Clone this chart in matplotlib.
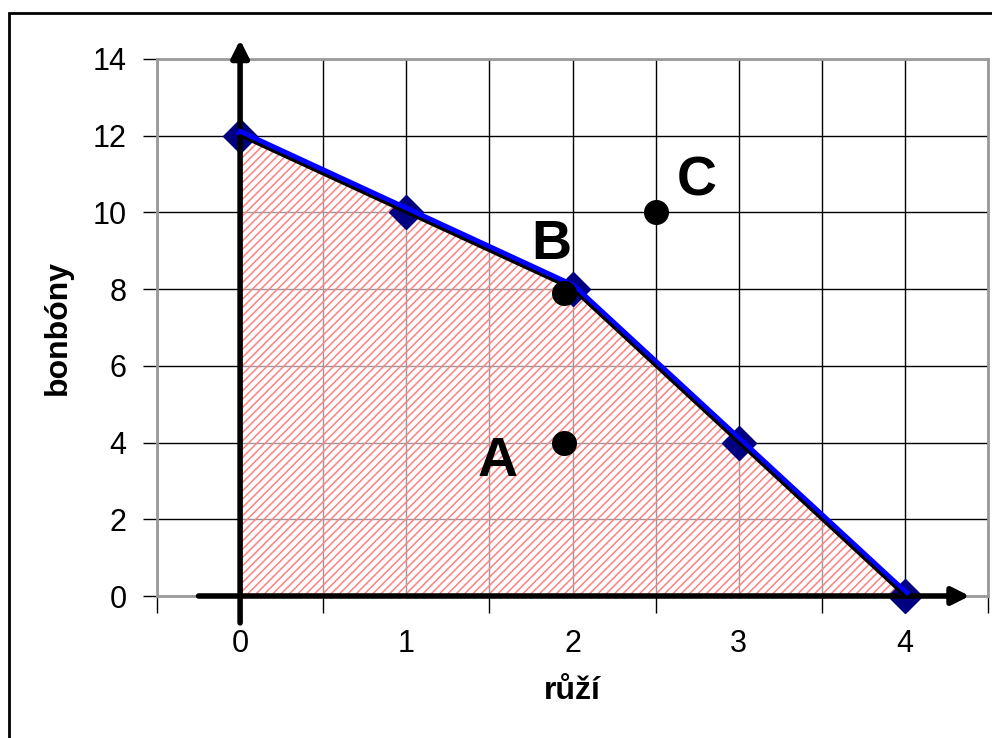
import matplotlib
matplotlib.use("Agg")
import matplotlib.pyplot as plt
import matplotlib.transforms as mtransforms
from matplotlib.patches import Polygon, Rectangle

# data
frontier_x = [0, 1, 2, 3, 4]
frontier_y = [12, 10, 8, 4, 0]
points_x = [1.95, 1.95, 2.5]
points_y = [4, 7.9, 10]
point_labels = ["A", "B", "C"]
label_x = [1.55, 1.87, 2.75]
label_y = [3.5, 9.15, 10.8]
x_ticks = [0, 1, 2, 3, 4]
y_ticks = [0, 2, 4, 6, 8, 10, 12, 14]

plt.rcParams['font.family'] = ['Liberation Sans', 'DejaVu Sans']
plt.rcParams['hatch.linewidth'] = 1.1

fig = plt.figure(figsize=(9.92, 7.38), dpi=100)
ax = fig.add_axes([157/992, (738-596)/738, (988-157)/992, (596-59)/738])
ax.set_xlim(-0.5, 4.5)
ax.set_ylim(0, 14)

# grid
ax.set_xticks(x_ticks)
ax.set_xticks([v - 0.5 for v in x_ticks] + [x_ticks[-1] + 0.5], minor=True)
ax.set_yticks(y_ticks)
ax.grid(True, which='both', color='black', lw=1.0, zorder=0)
ax.set_axisbelow(True)
ax.tick_params(axis='x', which='major', length=0, pad=24, labelsize=22)
ax.tick_params(axis='x', which='minor', length=12, width=1, direction='out', color='black')
ax.tick_params(axis='y', which='major', length=10, width=1, direction='out', pad=12, labelsize=22)
for s in ax.spines.values():
    s.set_color('#9a9a9a')
    s.set_linewidth(2)

# filled region
poly_pts = [(frontier_x[0], 0)] + list(zip(frontier_x, frontier_y))
ax.add_patch(Polygon(poly_pts, closed=True, facecolor=(1, 1, 1, 0.6),
                     edgecolor=(1.0, 0.5, 0.5), lw=0, hatch='////', zorder=1))

# diamonds (under lines and axes)
ax.plot(frontier_x, frontier_y, linestyle='none', marker='D', markersize=17,
        color='#000080', zorder=2, clip_on=False)

# axes arrows
ax.annotate('', xy=(4.39, 0), xytext=(-0.25, 0),
            arrowprops=dict(arrowstyle='-|>', lw=4, color='black', mutation_scale=26,
                            shrinkA=0, shrinkB=0),
            annotation_clip=False, zorder=3)
ax.annotate('', xy=(0, 14.5), xytext=(0, -0.7),
            arrowprops=dict(arrowstyle='-|>', lw=4, color='black', mutation_scale=26,
                            shrinkA=0, shrinkB=0),
            annotation_clip=False, zorder=3)

# blue smoothed line (slightly offset upward)
off = mtransforms.offset_copy(ax.transData, fig=fig, x=0.5, y=3, units='dots')
ax.plot(frontier_x, frontier_y, color='#0000ff', lw=5, transform=off, zorder=4,
        solid_joinstyle='round', clip_on=False)
# black line
ax.plot(frontier_x, frontier_y, color='black', lw=2.2, zorder=5, clip_on=False)

# points A, B, C
ax.plot(points_x, points_y, linestyle='none', marker='o', markersize=17,
        color='black', zorder=7, clip_on=False)
for lx, ly, t in zip(label_x, label_y, point_labels):
    ax.text(lx, ly, t, fontsize=40, fontweight='bold', ha='center', va='center', zorder=8)

ax.set_xlabel('růží', fontsize=23, fontweight='bold', labelpad=12)
ax.set_ylabel('bonbóny', fontsize=23, fontweight='bold', labelpad=14)

# outer frame
fig.add_artist(Rectangle((9/992, -0.05), 1.1, (738-13)/738 + 0.05, transform=fig.transFigure,
                         fill=False, edgecolor='black', lw=2))

fig.savefig('out.png', dpi=100)
